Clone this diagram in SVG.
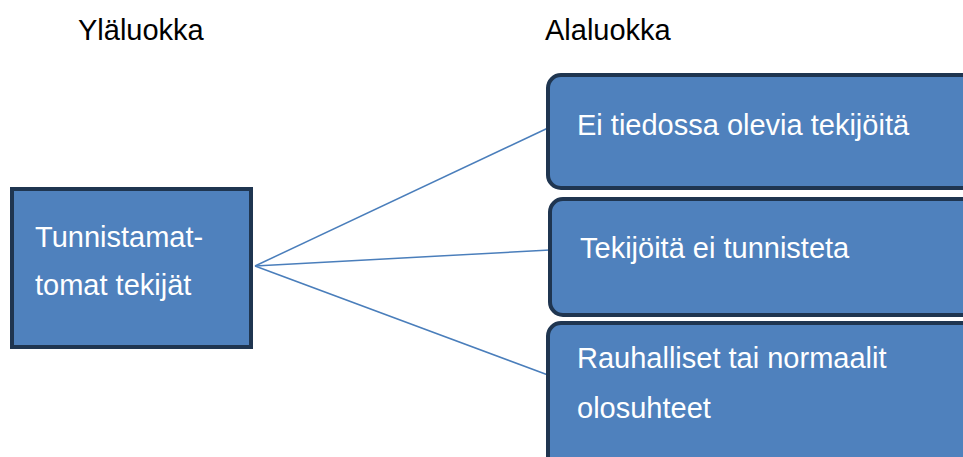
<svg xmlns="http://www.w3.org/2000/svg" width="963" height="457" viewBox="0 0 963 457">
  <style>
    .head { font-family: "Liberation Sans", Arial, sans-serif; font-size: 29px; fill: #000000; }
    .label { font-family: "Liberation Sans", Arial, sans-serif; font-size: 29px; fill: #ffffff; }
    .box { fill: #4f81bd; stroke: #1f3550; stroke-width: 4; }
    .link { fill: none; stroke: #4a7ebb; stroke-width: 1.5; }
  </style>
  <rect width="963" height="457" fill="#ffffff"/>

  <text class="head" x="78" y="40">Yläluokka</text>
  <text class="head" x="545" y="40">Alaluokka</text>

  <g id="connectors">
    <line class="link" x1="255" y1="266" x2="548" y2="128"/>
    <line class="link" x1="255" y1="266" x2="550" y2="250"/>
    <line class="link" x1="255" y1="266" x2="548" y2="375"/>
  </g>

  <g id="node-parent">
    <rect class="box" x="12" y="189" width="239" height="158"/>
    <text class="label" x="35" y="247">Tunnistamat-</text>
    <text class="label" x="35" y="295">tomat tekijät</text>
  </g>

  <g id="node-unknown">
    <rect class="box" x="548" y="75" width="440" height="113" rx="13"/>
    <text class="label" x="577" y="135">Ei tiedossa olevia tekijöitä</text>
  </g>

  <g id="node-unidentified">
    <rect class="box" x="550" y="199" width="440" height="116" rx="13"/>
    <text class="label" x="580" y="258">Tekijöitä ei tunnisteta</text>
  </g>

  <g id="node-peaceful">
    <rect class="box" x="548" y="323" width="440" height="160" rx="13"/>
    <text class="label" x="577" y="368">Rauhalliset tai normaalit</text>
    <text class="label" x="577" y="418">olosuhteet</text>
  </g>
</svg>
